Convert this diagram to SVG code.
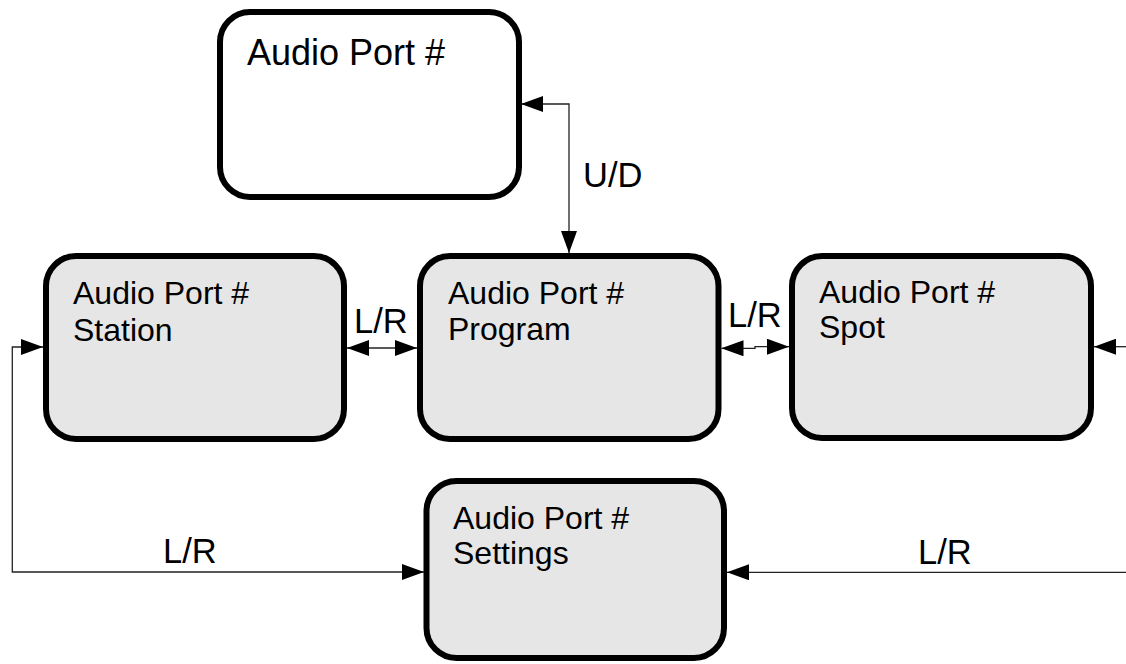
<svg xmlns="http://www.w3.org/2000/svg" width="1126" height="664" viewBox="0 0 1126 664">
<style>
.box{stroke:#000;stroke-width:6;}
.gray{fill:#e6e6e6;}
.white{fill:#fff;}
.t{font-family:"Liberation Sans",Arial,sans-serif;fill:#000;}
.nt{font-size:32px;}
.lbl{font-size:34.5px;}
.c{fill:none;stroke:#222;stroke-width:1.3;}
</style>
<defs>
<marker id="ah" viewBox="0 0 22 16" refX="22" refY="8" markerWidth="22" markerHeight="16" markerUnits="userSpaceOnUse" orient="auto-start-reverse">
<path d="M0,0 L22,8 L0,16 z" fill="#000"/>
</marker>
</defs>
<rect width="1126" height="664" fill="#fff"/>
<g id="connectors">
<path class="c" d="M569,253 V104 H521" marker-start="url(#ah)" marker-end="url(#ah)"/>
<path class="c" d="M347,348 H417" marker-start="url(#ah)" marker-end="url(#ah)"/>
<path class="c" d="M721.5,348.3 H755 V346.7 H789" marker-start="url(#ah)" marker-end="url(#ah)"/>
<path class="c" d="M1126,346.7 H1094" marker-end="url(#ah)"/>
<path class="c" d="M424,572 H12.3 V347 H43" marker-start="url(#ah)" marker-end="url(#ah)"/>
<path class="c" d="M1126,572.3 H727" marker-end="url(#ah)"/>
<text class="t lbl" x="583" y="187">U/D</text>
<text class="t lbl" x="354" y="333">L/R</text>
<text class="t lbl" x="728" y="327">L/R</text>
<text class="t lbl" x="163" y="563">L/R</text>
<text class="t lbl" x="918" y="564">L/R</text>
</g>
<g id="node-top">
<rect class="box white" x="220" y="12" width="299" height="185" rx="30"/>
<text class="t" x="247" y="65" font-size="36">Audio Port #</text>
</g>
<g id="node-station">
<rect class="box gray" x="46" y="256" width="298" height="183" rx="30"/>
<text class="t nt" x="73" y="304">Audio Port #</text>
<text class="t nt" x="73" y="341">Station</text>
</g>
<g id="node-program">
<rect class="box gray" x="420" y="256" width="298.5" height="183" rx="30"/>
<text class="t nt" x="448" y="304">Audio Port #</text>
<text class="t nt" x="448" y="340">Program</text>
</g>
<g id="node-spot">
<rect class="box gray" x="792" y="256" width="299" height="182" rx="30"/>
<text class="t nt" x="819" y="303">Audio Port #</text>
<text class="t nt" x="819" y="338">Spot</text>
</g>
<g id="node-settings">
<rect class="box gray" x="426.5" y="481" width="297.5" height="177" rx="30"/>
<text class="t nt" x="453" y="529">Audio Port #</text>
<text class="t nt" x="453" y="564">Settings</text>
</g>
</svg>
